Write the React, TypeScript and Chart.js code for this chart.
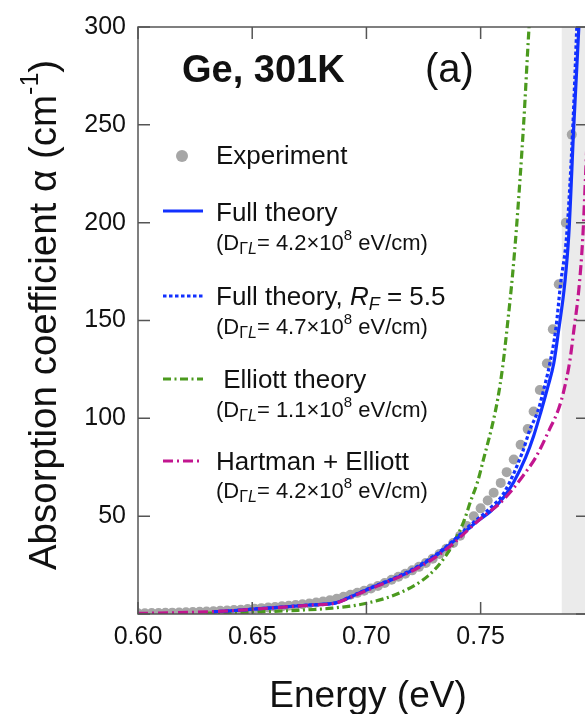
import { useEffect, useRef } from 'react';
import { Chart, registerables } from 'chart.js';

Chart.register(...registerables);

const FONT = "'Liberation Sans', Arial, Helvetica, sans-serif";

// Axis ranges / ticks
const X_MIN = 0.6;
const X_MAX = 0.797;
const X_STEP = 0.05;
const Y_MIN = 0;
const Y_MAX = 300;
const Y_STEP = 50;
const SHADE_START = 0.7855;

// Experiment (gray dots)
const EXP_E = [
  0.600, 0.603, 0.606, 0.609, 0.612, 0.615, 0.618, 0.621, 0.624, 0.627,
  0.630, 0.633, 0.636, 0.639, 0.642, 0.645, 0.648, 0.651, 0.654, 0.657,
  0.660, 0.663, 0.666, 0.669, 0.672, 0.675, 0.678, 0.681, 0.684, 0.687,
  0.690, 0.693, 0.696, 0.699, 0.702, 0.705, 0.708, 0.711, 0.714, 0.717,
  0.720, 0.723, 0.726, 0.729, 0.732, 0.735, 0.738, 0.741, 0.744,
  0.747, 0.750, 0.7531, 0.7557, 0.7588, 0.7614, 0.7645, 0.7675, 0.7706, 0.7732,
  0.7759, 0.779, 0.7816, 0.7842, 0.7873, 0.7899,
];
const EXP_A = [
  0.4, 0.4, 0.5, 0.5, 0.6, 0.7, 0.8, 0.9, 1.0, 1.1,
  1.3, 1.4, 1.6, 1.8, 2.0, 2.2, 2.5, 2.7, 3.0, 3.3,
  3.6, 3.9, 4.2, 4.6, 5.0, 5.4, 5.9, 6.4, 7.0, 7.8,
  8.8, 9.8, 10.8, 11.9, 13.0, 14.3, 15.8, 17.5, 19.0, 20.6,
  22.3, 24.1, 26.1, 28.3, 30.7, 33.3, 36.3, 40.0, 45.0,
  50, 54, 58, 62, 67, 72.5, 79, 86.5, 94.5, 103.5,
  114.5, 128, 145.5, 168.5, 200, 245,
];

// Full theory (solid blue)
const FULL_E = [
  0.633, 0.645, 0.655, 0.665, 0.675, 0.687, 0.692, 0.700, 0.710, 0.720,
  0.730, 0.737, 0.745, 0.7487, 0.7544, 0.760, 0.7645, 0.7697, 0.7732, 0.7763,
  0.7794, 0.782, 0.7842, 0.7868, 0.7886, 0.7908, 0.793, 0.794,
];
const FULL_A = [
  1.1, 2.0, 2.9, 3.7, 4.6, 5.8, 8.2, 12.3, 17.0, 22.3,
  29.5, 36.0, 44.0, 47.5, 52.5, 59.5, 67.5, 80, 91, 103,
  116, 128, 145.5, 168.7, 194, 250, 300, 325,
];

// Full theory, R_F = 5.5 (dotted blue)
const RF_E = [
  0.633, 0.645, 0.655, 0.665, 0.675, 0.687, 0.692, 0.700, 0.710, 0.720,
  0.730, 0.737, 0.745, 0.7487, 0.755, 0.760, 0.7684, 0.7715, 0.775, 0.7776,
  0.7803, 0.7829, 0.785, 0.7877, 0.7904, 0.7921, 0.793,
];
const RF_A = [
  1.1, 2.0, 2.9, 3.7, 4.6, 5.8, 8.3, 12.5, 17.3, 22.8,
  30.0, 36.5, 45.0, 48.5, 55, 61.5, 83, 94, 103.5, 114.6,
  128, 145.5, 168.7, 194, 250, 300, 325,
];

// Elliott theory (green dash-dot)
const EL_E = [
  0.630, 0.650, 0.670, 0.685, 0.700, 0.715, 0.727, 0.734, 0.738, 0.7425,
  0.7456, 0.7487, 0.7513, 0.755, 0.7575, 0.7596, 0.7618, 0.764, 0.7658, 0.7688,
  0.7712, 0.773,
];
const EL_A = [
  0.4, 1.0, 1.9, 3.0, 5.5, 11.0, 19.5, 28.5, 36.0, 47.0,
  57.6, 67.7, 79.3, 96, 110, 126, 148.5, 173.7, 199, 250,
  300, 330,
];

// Hartman + Elliott (magenta dash-dot-dot)
const HE_E = [
  0.600, 0.615, 0.630, 0.645, 0.655, 0.665, 0.675, 0.687, 0.692, 0.700,
  0.710, 0.720, 0.730, 0.737, 0.745, 0.7513, 0.7579, 0.7632, 0.7689, 0.7741,
  0.780, 0.7842, 0.7864, 0.789, 0.7908, 0.793, 0.7947, 0.796, 0.7975,
];
const HE_A = [
  0.3, 0.6, 1.1, 2.0, 2.8, 3.6, 4.5, 5.7, 8.0, 12.0,
  16.8, 22.0, 28.8, 35.0, 43.5, 50, 56, 62.6, 71.2, 80,
  94, 105, 114, 129, 145, 166, 192, 226, 268,
];

const SERIES_LABELS = [
  'Experiment',
  'Full theory',
  'Full theory, R_F = 5.5',
  'Elliott theory',
  'Hartman + Elliott',
];
const D_VALUES = ['4.2', '4.7', '1.1', '4.2'];
const PANEL_TITLE = 'Ge, 301K';
const PANEL_LETTER = '(a)';
const X_TITLE = 'Energy (eV)';
const Y_TITLE_MAIN = 'Absorption coefficient α (cm';
const Y_TITLE_SUP = '-1';

const BLUE = '#1231ff';
const GREEN = '#4b9a1e';
const MAGENTA = '#c2168f';
const GRAY = '#a6a6a6';
const TEXT = '#111111';

const DASH_RF = [3.5, 2.5];
const DASH_EL = [8, 3.5, 2, 3.5];
const DASH_HE = [10, 4, 2, 4];

const W = 600;
const H = 714;
const PLOT_RIGHT = 588;

const pts = (xs: number[], ys: number[]) => xs.map((x, i) => ({ x, y: ys[i] }));

type Run = { t: string; size: number; italic?: boolean; bold?: boolean; dy?: number };

function setFont(ctx: CanvasRenderingContext2D, r: Run) {
  ctx.font = `${r.italic ? 'italic ' : ''}${r.bold ? 'bold ' : ''}${r.size}px ${FONT}`;
}
function runsWidth(ctx: CanvasRenderingContext2D, runs: Run[]) {
  let w = 0;
  for (const r of runs) {
    setFont(ctx, r);
    w += ctx.measureText(r.t).width;
  }
  return w;
}
function drawRuns(ctx: CanvasRenderingContext2D, x: number, y: number, runs: Run[]) {
  let cx = x;
  for (const r of runs) {
    setFont(ctx, r);
    ctx.fillText(r.t, cx, y + (r.dy || 0));
    cx += ctx.measureText(r.t).width;
  }
}
function subRuns(val: string): Run[] {
  return [
    { t: '(D', size: 22 },
    { t: 'Γ', size: 16, dy: 4 },
    { t: 'L', size: 16, dy: 4, italic: true },
    { t: '= ' + val + '×10', size: 22 },
    { t: '8', size: 15, dy: -10 },
    { t: ' eV/cm)', size: 22 },
  ];
}

const decor = {
  id: 'decor',
  beforeDatasetsDraw(chart: any) {
    const { ctx, chartArea: a, scales } = chart;
    const xs = scales.x.getPixelForValue(SHADE_START);
    ctx.save();
    ctx.fillStyle = '#ebebeb';
    ctx.fillRect(xs, a.top, a.right - xs, a.bottom - a.top);
    ctx.restore();
  },
  afterDraw(chart: any) {
    const { ctx, chartArea: a, scales } = chart;
    const xS = scales.x;
    const yS = scales.y;
    ctx.save();
    // frame + inward ticks
    ctx.strokeStyle = '#555';
    ctx.lineWidth = 1.5;
    ctx.strokeRect(a.left, a.top, a.right - a.left, a.bottom - a.top);
    const TL = 12;
    ctx.beginPath();
    xS.ticks.forEach((t: any) => {
      const px = xS.getPixelForValue(t.value);
      ctx.moveTo(px, a.bottom);
      ctx.lineTo(px, a.bottom - TL);
      ctx.moveTo(px, a.top);
      ctx.lineTo(px, a.top + TL);
    });
    yS.ticks.forEach((t: any) => {
      const py = yS.getPixelForValue(t.value);
      ctx.moveTo(a.left, py);
      ctx.lineTo(a.left + TL, py);
      ctx.moveTo(a.right, py);
      ctx.lineTo(a.right - TL, py);
    });
    ctx.stroke();

    ctx.fillStyle = TEXT;
    ctx.textBaseline = 'alphabetic';
    ctx.textAlign = 'left';

    // x title
    const xr: Run[] = [{ t: X_TITLE, size: 37 }];
    drawRuns(ctx, 368 - runsWidth(ctx, xr) / 2, 707, xr);

    // y title (rotated)
    const yr: Run[] = [
      { t: Y_TITLE_MAIN, size: 38.5 },
      { t: Y_TITLE_SUP, size: 25, dy: -18 },
      { t: ')', size: 38.5 },
    ];
    ctx.save();
    ctx.translate(56, 315);
    ctx.rotate(-Math.PI / 2);
    drawRuns(ctx, -runsWidth(ctx, yr) / 2, 0, yr);
    ctx.restore();

    // panel annotations
    drawRuns(ctx, 182, 82, [{ t: PANEL_TITLE, size: 38, bold: true }]);
    drawRuns(ctx, 425, 82, [{ t: PANEL_LETTER, size: 40 }]);

    // legend
    const TX = 216;
    const L0 = 163;
    const L1 = 203;
    // Experiment
    ctx.fillStyle = GRAY;
    ctx.beginPath();
    ctx.arc(182, 156, 6, 0, Math.PI * 2);
    ctx.fill();
    ctx.fillStyle = TEXT;
    drawRuns(ctx, TX, 164, [{ t: SERIES_LABELS[0], size: 26 }]);

    const line = (y: number, color: string, dash: number[]) => {
      ctx.save();
      ctx.strokeStyle = color;
      ctx.lineWidth = 3.2;
      ctx.setLineDash(dash);
      ctx.beginPath();
      ctx.moveTo(L0, y);
      ctx.lineTo(L1, y);
      ctx.stroke();
      ctx.restore();
    };

    line(211, BLUE, []);
    drawRuns(ctx, TX, 221, [{ t: SERIES_LABELS[1], size: 26 }]);
    drawRuns(ctx, TX, 250, subRuns(D_VALUES[0]));

    line(296, BLUE, DASH_RF);
    drawRuns(ctx, TX, 305, [
      { t: 'Full theory, ', size: 26 },
      { t: 'R', size: 26, italic: true },
      { t: 'F', size: 18, italic: true, dy: 5 },
      { t: ' = 5.5', size: 26 },
    ]);
    drawRuns(ctx, TX, 334, subRuns(D_VALUES[1]));

    line(379, GREEN, DASH_EL);
    drawRuns(ctx, TX, 388, [{ t: ' ' + SERIES_LABELS[3], size: 26 }]);
    drawRuns(ctx, TX, 417, subRuns(D_VALUES[2]));

    line(461, MAGENTA, DASH_HE);
    drawRuns(ctx, TX, 470, [{ t: SERIES_LABELS[4], size: 26 }]);
    drawRuns(ctx, TX, 498, subRuns(D_VALUES[3]));

    ctx.restore();
  },
};

export default function App() {
  const ref = useRef<HTMLCanvasElement | null>(null);

  useEffect(() => {
    if (!ref.current) return;
    const lineDs = (label: string, xs: number[], ys: number[], color: string, dash: number[], order: number) => ({
      type: 'scatter' as const,
      label,
      data: pts(xs, ys),
      showLine: true,
      borderColor: color,
      backgroundColor: color,
      borderWidth: 3.2,
      borderDash: dash,
      borderCapStyle: 'butt' as const,
      pointRadius: 0,
      cubicInterpolationMode: 'monotone' as const,
      fill: false,
      order,
    });
    const chart = new Chart(ref.current, {
      type: 'scatter',
      data: {
        datasets: [
          lineDs(SERIES_LABELS[4], HE_E, HE_A, MAGENTA, DASH_HE, 0),
          lineDs(SERIES_LABELS[2], RF_E, RF_A, BLUE, DASH_RF, 1),
          lineDs(SERIES_LABELS[1], FULL_E, FULL_A, BLUE, [], 2),
          lineDs(SERIES_LABELS[3], EL_E, EL_A, GREEN, DASH_EL, 3),
          {
            type: 'scatter',
            label: SERIES_LABELS[0],
            data: pts(EXP_E, EXP_A),
            showLine: false,
            pointRadius: 5,
            pointBorderWidth: 0,
            backgroundColor: GRAY,
            borderColor: GRAY,
            order: 4,
          },
        ],
      },
      options: {
        responsive: false,
        maintainAspectRatio: false,
        animation: false,
        events: [],
        layout: { padding: { top: 20, right: W - PLOT_RIGHT, left: 0, bottom: 0 } },
        plugins: { legend: { display: false }, tooltip: { enabled: false }, title: { display: false } },
        scales: {
          x: {
            type: 'linear',
            min: X_MIN,
            max: X_MAX,
            grid: { display: false, drawTicks: false },
            border: { display: false },
            ticks: {
              stepSize: X_STEP,
              includeBounds: false,
              autoSkip: false,
              maxRotation: 0,
              padding: 8,
              color: TEXT,
              font: { family: FONT, size: 25 },
              callback: (v: any) => Number(v).toFixed(2),
            },
            afterFit: (s: any) => {
              s.height = H - 614;
            },
          },
          y: {
            type: 'linear',
            min: Y_MIN,
            max: Y_MAX,
            grid: { display: false, drawTicks: false },
            border: { display: false },
            ticks: {
              stepSize: Y_STEP,
              padding: 12,
              color: TEXT,
              font: { family: FONT, size: 25 },
              callback: (v: any) => (Number(v) === 0 ? '' : String(v)),
            },
            afterFit: (s: any) => {
              s.width = 138;
            },
          },
        },
      },
      plugins: [decor],
    } as any);
    return () => chart.destroy();
  }, []);

  return (
    <div style={{ position: 'fixed', left: 0, top: 0, width: 585, height: H, overflow: 'hidden', background: '#fff' }}>
      <canvas ref={ref} width={W} height={H} style={{ width: W, height: H, display: 'block' }} />
    </div>
  );
}
